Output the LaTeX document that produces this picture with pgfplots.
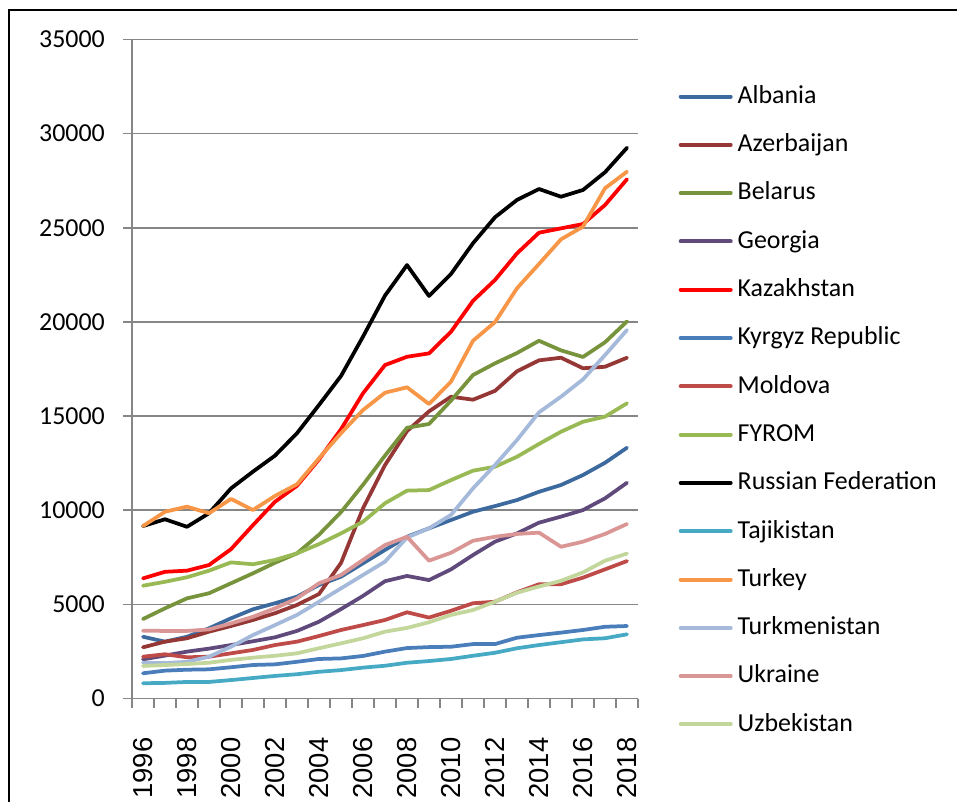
\documentclass[border=0pt]{standalone}
\usepackage{pgfplots}
\usepackage{pgfplotstable}
\pgfplotsset{compat=1.18}
\usepackage{fontspec}
\setmainfont{Carlito}
\newfontfamily\arialfont{Liberation Sans}

\definecolor{gridgray}{RGB}{134,134,134}
\definecolor{cALB}{HTML}{3C6A9E}
\definecolor{cAZE}{HTML}{953735}
\definecolor{cBLR}{HTML}{77933C}
\definecolor{cGEO}{HTML}{604A7B}
\definecolor{cKAZ}{HTML}{FF0000}
\definecolor{cKGZ}{HTML}{4A7EBB}
\definecolor{cMDA}{HTML}{BE4B48}
\definecolor{cMKD}{HTML}{98B954}
\definecolor{cRUS}{HTML}{000000}
\definecolor{cTJK}{HTML}{46AAC5}
\definecolor{cTUR}{HTML}{F79646}
\definecolor{cTKM}{HTML}{A5B9DA}
\definecolor{cUKR}{HTML}{D99694}
\definecolor{cUZB}{HTML}{C3D69B}

\pgfplotstableread{
year ALB AZE BLR GEO KAZ KGZ MDA MKD RUS TJK TUR TKM UKR UZB
1996 3280 2720 4220 2080 6380 1340 2220 5990 9160 810 9160 1900 3600 1730
1997 3020 3020 4790 2280 6730 1480 2350 6200 9520 830 9920 1880 3590 1780
1998 3280 3200 5320 2490 6790 1530 2190 6440 9120 880 10190 1950 3590 1830
1999 3730 3550 5590 2650 7090 1550 2220 6790 9840 880 9840 2220 3670 1900
2000 4260 3850 6120 2840 7930 1660 2400 7230 11160 980 10600 2750 3990 2050
2001 4740 4170 6650 3040 9210 1780 2580 7130 12050 1090 10010 3370 4340 2170
2002 5060 4530 7210 3250 10450 1815 2840 7360 12900 1200 10760 3900 4790 2270
2003 5410 4970 7710 3590 11300 1950 3020 7710 14090 1290 11380 4440 5320 2400
2004 6030 5550 8700 4080 12700 2100 3320 8200 15590 1420 12760 5140 6120 2670
2005 6470 7200 9900 4750 14300 2130 3640 8770 17130 1510 14090 5850 6560 2930
2006 7180 10100 11350 5450 16210 2260 3900 9390 19220 1640 15320 6560 7360 3200
2007 7890 12400 12900 6230 17710 2490 4170 10370 21400 1740 16240 7270 8150 3550
2008 8590 14200 14380 6510 18150 2680 4580 11040 23020 1900 16530 8550 8590 3750
2009 9040 15250 14580 6290 18330 2730 4300 11070 21380 1990 15640 9040 7320 4050
2010 9480 16030 15820 6860 19480 2750 4660 11600 22550 2100 16830 9750 7740 4440
2011 9920 15870 17180 7620 21120 2890 5060 12100 24180 2270 19000 11160 8380 4700
2012 10220 16340 17800 8330 22230 2890 5140 12310 25560 2430 19990 12400 8590 5140
2013 10540 17380 18350 8770 23640 3230 5640 12840 26480 2670 21790 13730 8740 5620
2014 10980 17960 19000 9340 24740 3370 6070 13520 27060 2840 23080 15200 8810 5950
2015 11340 18100 18490 9660 24970 3500 6070 14170 26650 2990 24390 16030 8060 6250
2016 11870 17540 18140 10010 25200 3640 6420 14700 27010 3140 25060 16950 8330 6700
2017 12520 17620 18920 10630 26210 3810 6860 14970 27950 3200 27100 18240 8740 7320
2018 13320 18100 20030 11460 27580 3850 7300 15680 29250 3410 27980 19570 9270 7700
}\data

\begin{document}
\begin{tikzpicture}[x=1bp,y=1bp]
\useasboundingbox (0,0) rectangle (957,-802);
\begin{axis}[
  at={(132bp,-698.5bp)}, anchor=south west,
  scale only axis, width=506bp, height=659bp,
  xmin=1995.5, xmax=2018.5, ymin=0, ymax=35000,
  axis x line*=bottom, axis y line*=left,
  axis line style={draw=gridgray, line width=1.5bp},
  ymajorgrids, grid style={draw=gridgray, line width=1.5bp},
  ytick={0,5000,...,35000},
  scaled y ticks=false,
  xtick={1996,1998,...,2018},
  minor xtick={1995.5,1996.5,...,2018.5},
  tick align=outside,
  major tick length=9bp, minor tick length=9bp,
  every major x tick/.style={draw=none},
  every minor x tick/.style={draw=gridgray, line width=1.5bp},
  every major y tick/.style={draw=gridgray, line width=1.5bp},
  /pgf/number format/1000 sep={},
  /pgf/number format/assume math mode=true,
  xticklabel style={font=\arialfont\fontsize{27.5}{27.5}\selectfont, rotate=90, anchor=east, inner sep=0pt},
  xticklabel shift=30bp,
  yticklabel style={font=\fontsize{26}{26}\selectfont, anchor=east, inner sep=0pt},
  yticklabel shift=18bp,
  legend style={at={(1.0804,0.929)}, anchor=north west, draw=none, fill=none,
    inner sep=0pt, outer sep=0pt, row sep=31.3bp, column sep=5bp,
    font=\fontsize{26}{26}\selectfont,
    nodes={inner sep=0pt, text height=17bp, text depth=0bp}},
  legend cell align=left,
  legend image code/.code={\draw[line width=4bp, line cap=round] (0bp,-1.7bp) -- (50bp,-1.7bp);},
  every axis plot/.append style={line width=3.75bp, line join=round, line cap=round},
]
\addplot[cALB] table[x=year,y=ALB]{\data};
\addlegendentry{Albania}
\addplot[cAZE] table[x=year,y=AZE]{\data};
\addlegendentry{Azerbaijan}
\addplot[cBLR] table[x=year,y=BLR]{\data};
\addlegendentry{Belarus}
\addplot[cGEO] table[x=year,y=GEO]{\data};
\addlegendentry{Georgia}
\addplot[cKAZ] table[x=year,y=KAZ]{\data};
\addlegendentry{Kazakhstan}
\addplot[cKGZ] table[x=year,y=KGZ]{\data};
\addlegendentry{Kyrgyz Republic}
\addplot[cMDA] table[x=year,y=MDA]{\data};
\addlegendentry{Moldova}
\addplot[cMKD] table[x=year,y=MKD]{\data};
\addlegendentry{FYROM}
\addplot[cRUS] table[x=year,y=RUS]{\data};
\addlegendentry{Russian Federation}
\addplot[cTJK] table[x=year,y=TJK]{\data};
\addlegendentry{Tajikistan}
\addplot[cTUR] table[x=year,y=TUR]{\data};
\addlegendentry{Turkey}
\addplot[cTKM] table[x=year,y=TKM]{\data};
\addlegendentry{Turkmenistan}
\addplot[cUKR] table[x=year,y=UKR]{\data};
\addlegendentry{Ukraine}
\addplot[cUZB] table[x=year,y=UZB]{\data};
\addlegendentry{Uzbekistan}
\end{axis}
\draw[line width=2.7bp] (9,-802) -- (9,-10) -- (957,-10);
\end{tikzpicture}
\end{document}
